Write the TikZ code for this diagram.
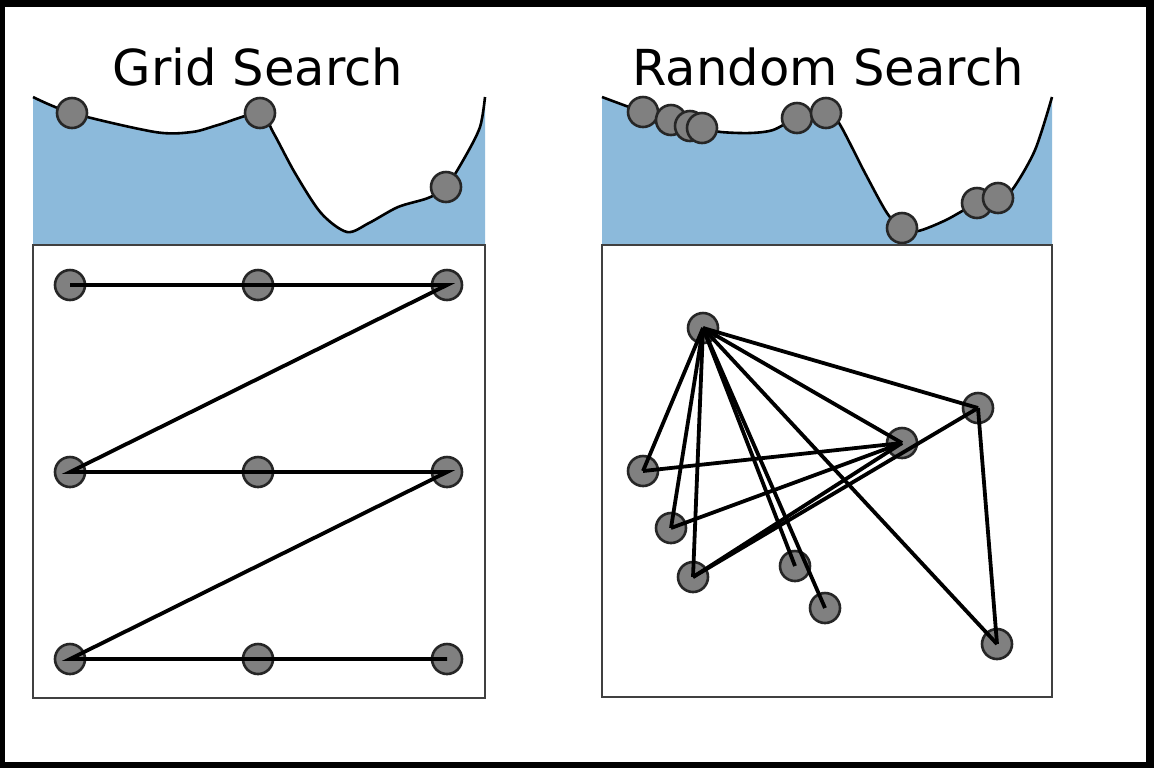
\documentclass[tikz,border=0pt]{standalone}
\usepackage{fontspec}
\setmainfont{DejaVu Sans}
\usetikzlibrary{positioning}

\definecolor{basinblue}{RGB}{140,186,219}
\definecolor{samplegray}{RGB}{128,128,128}

\begin{document}
\begin{tikzpicture}[
    x=0.5pt, y=-0.5pt,
    sample/.style={circle, draw=black!85, fill=samplegray, line width=1.3pt, minimum size=15pt, inner sep=0pt},
    link/.style={line width=1.9pt, black},
    curve/.style={line width=1.3pt, black},
    basin/.style={fill=basinblue},
    panel/.style={draw=black!75, line width=0.8pt},
    title/.style={font=\fontsize{24.8pt}{28pt}\selectfont, anchor=base, inner sep=0pt}
]

% Frame
\fill [black] (0,0) rectangle (1154,768);
\fill [white] (5,7) rectangle (1146,762);
\useasboundingbox (0,0) rectangle (1154,768);

% Titles
\node [title] (gridtitle) at (258,85) {Grid Search};
\node [title] (randtitle) at (828,85) {Random Search};

% Grid Search: objective curve
\fill [basin] (33,245) -- plot [smooth] coordinates {(33,97) (72,113) (155,132) (192,132) (218,125) (260,113) (273,132) (295,173) (321,213) (347,232) (369,223) (398,207) (428,198) (446,187) (465,157) (480,127) (485,97)} -- (485,245) -- cycle;
\draw [curve] plot [smooth] coordinates {(33,97) (72,113) (155,132) (192,132) (218,125) (260,113) (273,132) (295,173) (321,213) (347,232) (369,223) (398,207) (428,198) (446,187) (465,157) (480,127) (485,97)};
\node [sample] (gt1) at (72,113) {};
\node [sample] (gt2) at (260,113) {};
\node [sample] (gt3) at (446,187) {};

% Grid Search: parameter space
\draw [panel] (33,245) rectangle (485,698);
\foreach \i/\x in {1/70, 2/258, 3/447} {
  \foreach \j/\y in {1/285, 2/472, 3/659} {
    \node [sample] (g\i\j) at (\x,\y) {};
  }
}
\draw [link] (g11.center) -- (g31.center) -- (g12.center) -- (g32.center) -- (g13.center) -- (g33.center);

% Random Search: objective curve
\fill [basin] (602,245) -- plot [smooth] coordinates {(602,97) (643,112) (671,120) (702,128) (721,132) (750,133) (773,130) (797,118) (826,113) (839,123) (865,173) (887,213) (902,228) (918,231) (946,220) (977,203) (998,198) (1012,190) (1035,150) (1052,97)} -- (1052,245) -- cycle;
\draw [curve] plot [smooth] coordinates {(602,97) (643,112) (671,120) (702,128) (721,132) (750,133) (773,130) (797,118) (826,113) (839,123) (865,173) (887,213) (902,228) (918,231) (946,220) (977,203) (998,198) (1012,190) (1035,150) (1052,97)};
\foreach \n/\x/\y in {1/643/112, 2/671/120, 3/690/126, 4/702/128, 5/797/118, 6/826/113, 7/902/228, 8/977/203, 9/998/198} {
  \node [sample] (rt\n) at (\x,\y) {};
}

% Random Search: parameter space
\draw [panel] (602,245) rectangle (1052,697);
\foreach \n/\x/\y in {a/703/328, b/978/408, c/902/443, d/643/471, e/671/528, f/693/577, g/795/566, h/825/608, i/997/644} {
  \node [sample] (r\n) at (\x,\y) {};
}
\foreach \s/\t in {a/b, a/c, a/d, a/e, a/f, a/g, a/h, a/i, c/d, c/e, c/f, f/b, b/i} {
  \draw [link] (r\s.center) -- (r\t.center);
}

\end{tikzpicture}
\end{document}
